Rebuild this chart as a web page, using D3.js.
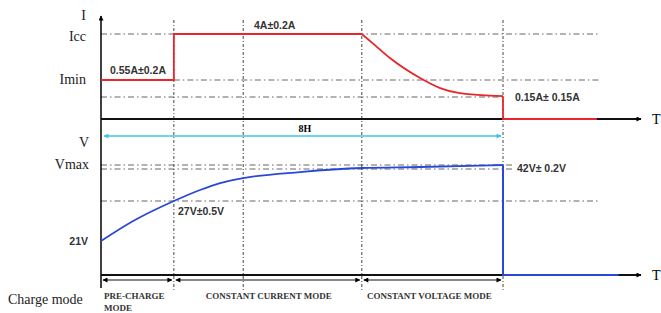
<!DOCTYPE html>
<html>
<head>
<meta charset="utf-8">
<script src="https://cdn.jsdelivr.net/npm/d3@7"></script>
<style>
  body { margin: 0; background: #fff; }
  svg { display: block; }
</style>
</head>
<body>
<script>
// chart size
var width = 661;
var height = 313;

// phase boundaries in hours
var phaseNames = [['PRE-CHARGE', 'MODE'], ['CONSTANT CURRENT MODE'], ['CONSTANT VOLTAGE MODE']];
var phaseBounds = [0, 1.45, 5.19, 8];
var gridTimes = [1.45, 2.83, 5.19, 8];
var totalLabel = '8H';

// current curve (A)
var stepTimes = [0, 1.45, 1.45, 5.19];
var stepValues = [0.55, 0.55, 4, 4];
var decayTimes = [5.19, 5.45, 5.75, 6.35, 6.75, 7.14, 8];
var decayValues = [4, 3.17, 2.2, 0.7, 0.36, 0.24, 0.17];
var currentTailTimes = [8, 8, 9.87];
var currentTailValues = [0.17, 0, 0];
var currentLevels = [4, 0.55, 0.15];
var currentLabels = ['I', 'Icc', 'Imin'];

// voltage curve (V)
var voltTimes = [0, 0.64, 1.45, 1.97, 2.37, 2.83, 3.96, 5.19, 6.35, 8];
var voltValues = [21, 24.0, 27, 32.1, 35.3, 37.6, 40.4, 41.9, 42.0, 42.2];
var voltTailTimes = [8, 8, 10.3];
var voltTailValues = [42.2, 0, 0];
var voltLevels = [42.2, 41.8, 27];

var x = d3.scaleLinear().domain([0, 8]).range([101, 503]);
var yI = d3.scaleLinear().domain([0, 0.15, 0.55, 4]).range([119, 97, 80, 34]);
var yV = d3.scaleLinear().domain([0, 21, 27, 41.8, 42.2]).range([275, 241, 201, 169, 165]);

var red = '#e8262b', blue = '#2a48d6', cyan = '#3cc4e8';
var serif = '"Liberation Serif", "DejaVu Serif", serif';
var sans = '"Liberation Sans", Arial, sans-serif';

var svg = d3.select('body').append('svg')
  .attr('width', width)
  .attr('height', height);

var defs = svg.append('defs');
function marker(id, color, w, h) {
  defs.append('marker')
    .attr('id', id)
    .attr('viewBox', '0 0 10 10')
    .attr('refX', 9).attr('refY', 5)
    .attr('markerUnits', 'userSpaceOnUse')
    .attr('markerWidth', w).attr('markerHeight', h)
    .attr('orient', 'auto-start-reverse')
    .append('path')
    .attr('d', 'M0,0 L10,5 L0,10 z')
    .attr('fill', color);
}
marker('arrSmall', '#000', 6, 5);
marker('arrCyan', cyan, 6, 5);

// horizontal reference lines
var dashH = '6,3,1.5,3';
var hLines = [
  {y: yI(currentLevels[0]), x1: 101, x2: 600},
  {y: yI(currentLevels[1]), x1: x(phaseBounds[1]), x2: 600},
  {y: yI(currentLevels[2]), x1: 101, x2: x(8)},
  {y: yV(voltLevels[0]), x1: 101, x2: 512},
  {y: yV(voltLevels[1]), x1: 101, x2: 512},
  {y: yV(voltLevels[2]), x1: 101, x2: 600}
];
svg.selectAll('.hline').data(hLines).enter().append('line')
  .attr('x1', function(d){ return d.x1; })
  .attr('x2', function(d){ return d.x2; })
  .attr('y1', function(d){ return d.y; })
  .attr('y2', function(d){ return d.y; })
  .attr('stroke', '#666').attr('stroke-width', 1)
  .attr('stroke-dasharray', dashH);

// vertical phase lines
svg.selectAll('.vline').data(gridTimes).enter().append('line')
  .attr('x1', function(d){ return x(d); })
  .attr('x2', function(d){ return x(d); })
  .attr('y1', 20).attr('y2', 290)
  .attr('stroke', '#444').attr('stroke-width', 1)
  .attr('stroke-dasharray', '3,2,1,2');

// axes
svg.append('line').attr('x1', 101).attr('x2', 101).attr('y1', 288).attr('y2', 16)
  .attr('stroke', '#000').attr('stroke-width', 1.5).attr('marker-end', 'url(#arrSmall)');
[119, 275].forEach(function(yy){
  svg.append('line').attr('x1', 101).attr('x2', 641).attr('y1', yy).attr('y2', yy)
    .attr('stroke', '#111').attr('stroke-width', 1.8).attr('marker-end', 'url(#arrSmall)');
  svg.append('text').attr('x', 652).attr('y', yy + 5).text('T')
    .attr('font-family', serif).attr('font-size', 14);
});

// current curve
function path(times, values, yScale, curve) {
  var gen = d3.line()
    .x(function(d){ return x(d[0]); })
    .y(function(d){ return yScale(d[1]); })
    .curve(curve || d3.curveLinear);
  return gen(d3.zip(times, values));
}
svg.append('path').attr('d', path(stepTimes, stepValues, yI))
  .attr('fill', 'none').attr('stroke', red).attr('stroke-width', 1.8);
svg.append('path').attr('d', path(decayTimes, decayValues, yI, d3.curveMonotoneX))
  .attr('fill', 'none').attr('stroke', red).attr('stroke-width', 1.8);
svg.append('path').attr('d', path(currentTailTimes, currentTailValues, yI))
  .attr('fill', 'none').attr('stroke', red).attr('stroke-width', 1.8);

// voltage curve
svg.append('path').attr('d', path(voltTimes, voltValues, yV, d3.curveMonotoneX))
  .attr('fill', 'none').attr('stroke', blue).attr('stroke-width', 1.8);
svg.append('path').attr('d', path(voltTailTimes, voltTailValues, yV))
  .attr('fill', 'none').attr('stroke', blue).attr('stroke-width', 2);

// 8H span arrow
svg.append('line').attr('x1', x(0) + 3).attr('x2', x(8) - 2).attr('y1', 136).attr('y2', 136)
  .attr('stroke', cyan).attr('stroke-width', 1.6)
  .attr('marker-start', 'url(#arrCyan)').attr('marker-end', 'url(#arrCyan)');
svg.append('text').attr('x', (x(0) + x(8)) / 2 + 3).attr('y', 132).attr('text-anchor', 'middle')
  .attr('font-family', serif).attr('font-weight', 'bold').attr('font-size', 10).text(totalLabel);

// phase arrows
for (var i = 0; i < 3; i++) {
  svg.append('line').attr('x1', x(phaseBounds[i]) + 2).attr('x2', x(phaseBounds[i + 1]) - 2)
    .attr('y1', 280).attr('y2', 280)
    .attr('stroke', '#111').attr('stroke-width', 1)
    .attr('marker-start', 'url(#arrSmall)').attr('marker-end', 'url(#arrSmall)');
}

// axis labels
function label(tx, ty, s, opts) {
  var t = svg.append('text').attr('x', tx).attr('y', ty).text(s)
    .attr('font-family', opts.family || serif)
    .attr('font-size', opts.size || 14)
    .attr('fill', opts.color || '#222');
  if (opts.anchor) t.attr('text-anchor', opts.anchor);
  if (opts.bold) t.attr('font-weight', 'bold');
  return t;
}
label(86, 20, currentLabels[0], {anchor: 'end'});
label(86, 41, currentLabels[1], {anchor: 'end'});
label(86, 84, currentLabels[2], {anchor: 'end'});
label(89, 147, 'V', {anchor: 'end'});
label(89, 169, 'Vmax', {anchor: 'end'});
label(8, 304, 'Charge mode', {});

// value labels
var vopt = {family: sans, size: 10.5, bold: true, color: '#333'};
label(110, 74, '0.55A\u00b10.2A', vopt);
label(254, 29, '4A\u00b10.2A', vopt);
label(515, 101, '0.15A\u00b1 0.15A', vopt);
label(88, 245, '21V', {family: sans, size: 10.5, bold: true, color: '#333', anchor: 'end'});
label(178, 215, '27V\u00b10.5V', vopt);
label(517, 172, '42V\u00b1 0.2V', vopt);

// phase labels
var popt = {size: 9, bold: true, color: '#333'};
label(104, 299, phaseNames[0][0], popt);
label(104, 311, phaseNames[0][1], popt);
label((x(phaseBounds[1]) + x(phaseBounds[2])) / 2 + 1, 299, phaseNames[1][0],
  {size: 9, bold: true, color: '#333', anchor: 'middle'});
label((x(phaseBounds[2]) + x(phaseBounds[3])) / 2 - 3, 299, phaseNames[2][0],
  {size: 9, bold: true, color: '#333', anchor: 'middle'});
</script>
</body>
</html>
